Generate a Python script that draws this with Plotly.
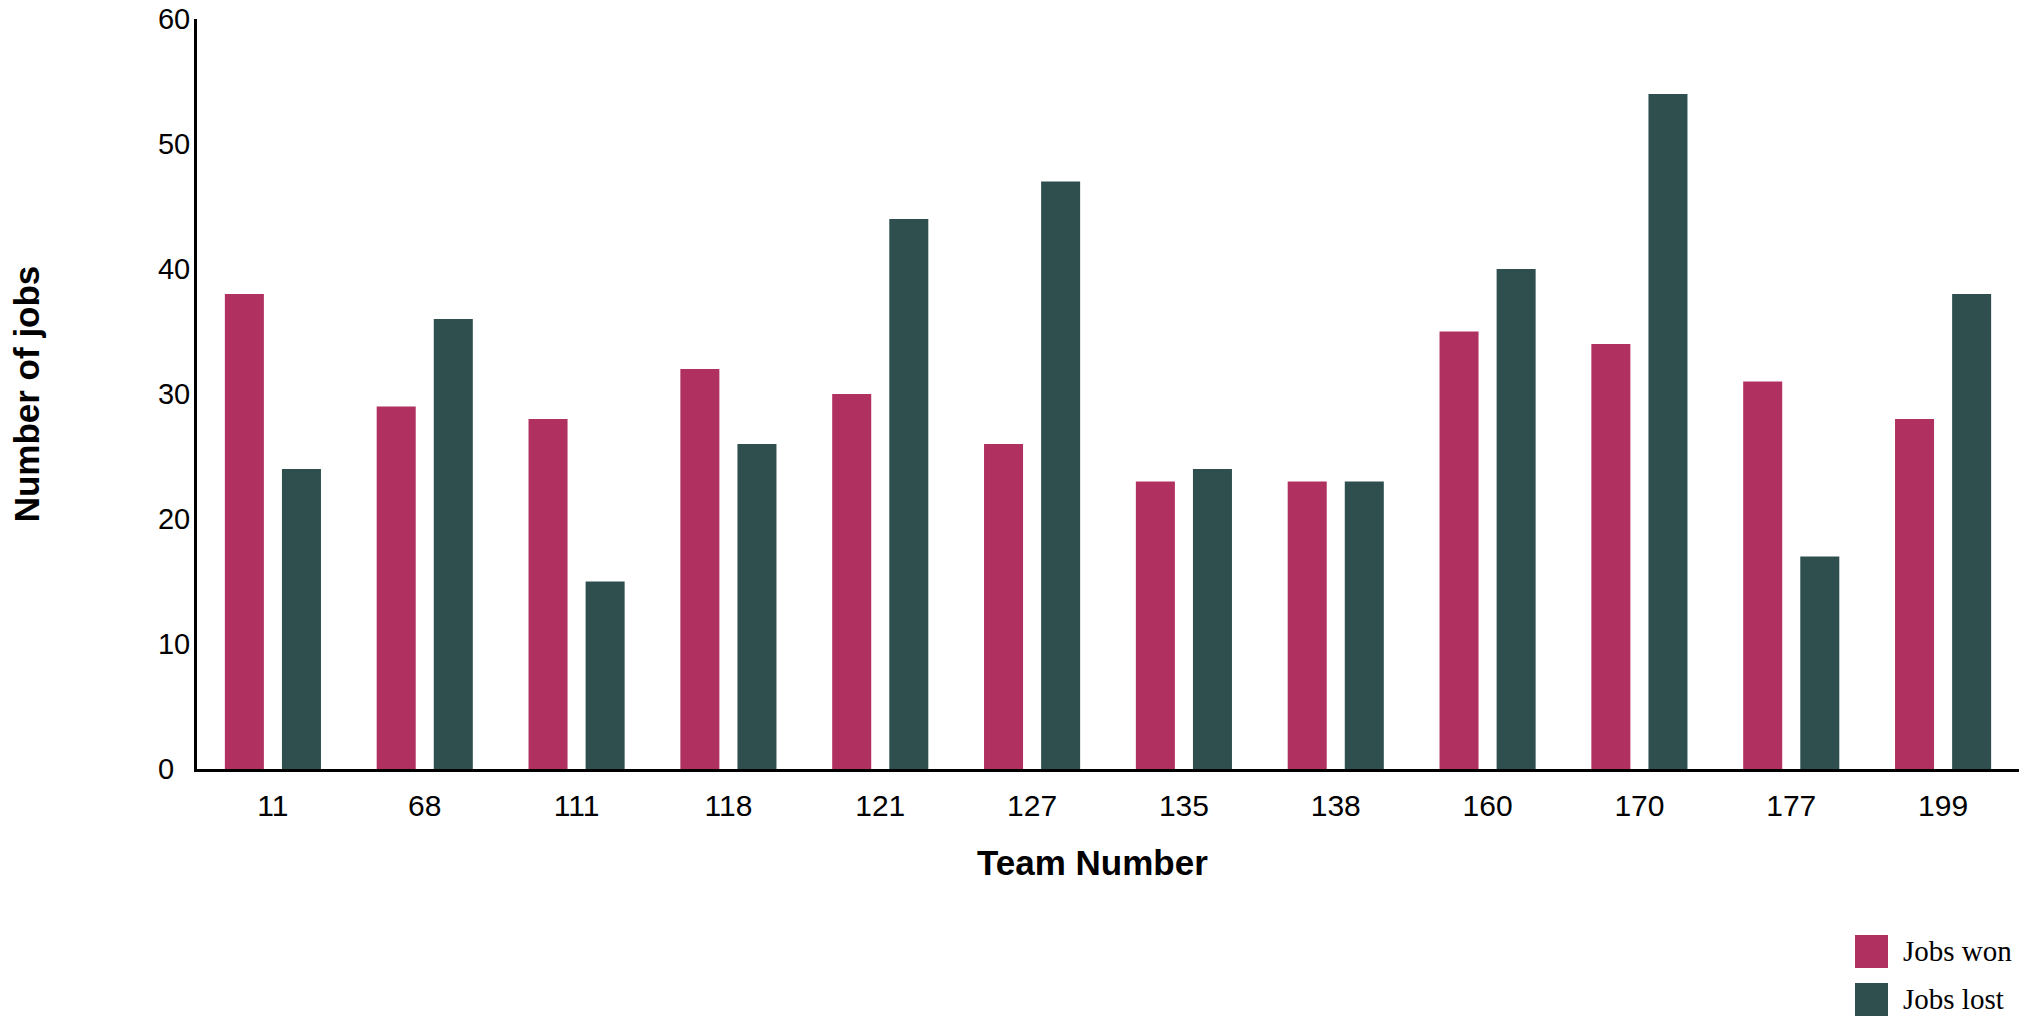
import plotly.graph_objects as go

# data
teams = ['11', '68', '111', '118', '121', '127', '135', '138', '160', '170', '177', '199']
jobs_won = [38, 29, 28, 32, 30, 26, 23, 23, 35, 34, 31, 28]
jobs_lost = [24, 36, 15, 26, 44, 47, 24, 23, 40, 54, 17, 38]
y_ticks = [0, 10, 20, 30, 40, 50, 60]
# y labels are left aligned in the original; a figure space pads the single digit
y_tick_text = ['0\u2007', '10', '20', '30', '40', '50', '60']

won_color = '#B03060'
lost_color = '#2F4F4F'

bar_w = 0.257
gap = 0.119

fig = go.Figure()
fig.add_trace(go.Bar(
    x=teams, y=jobs_won, name='Jobs won',
    marker=dict(color=won_color, line=dict(width=0)),
    width=bar_w, offset=-(bar_w + gap / 2),
))
fig.add_trace(go.Bar(
    x=teams, y=jobs_lost, name='Jobs lost',
    marker=dict(color=lost_color, line=dict(width=0)),
    width=bar_w, offset=gap / 2,
))

# plot area in pixels (used for the hand-drawn legend)
W, H = 2039, 1018
L, R, T, B = 197, 2019, 19, 769

def px(x):
    return (x - L) / (R - L)

def py(y):
    return (B - y) / (B - T)

# legend drawn by hand so the swatches can be as large as in the original
legend_items = [('Jobs won', won_color), ('Jobs lost', lost_color)]
for i, (label, col) in enumerate(legend_items):
    y0 = 935 + i * 48
    fig.add_shape(type='rect', xref='paper', yref='paper',
                  x0=px(1855), x1=px(1888), y0=py(y0 + 33), y1=py(y0),
                  fillcolor=col, line=dict(width=0))
    fig.add_annotation(xref='paper', yref='paper', showarrow=False,
                       x=px(1901), xanchor='left', y=py(y0 + 16), yanchor='middle',
                       text=label,
                       font=dict(family='Liberation Serif, Times New Roman, serif', size=29, color='black'))

# x title sits a bit left of the plot centre in the original
fig.add_annotation(xref='paper', yref='paper', showarrow=False,
                   x=px(1092), xanchor='center', y=py(862), yanchor='middle',
                   text='<b>Team Number</b>', font=dict(size=35, color='black'))

fig.update_layout(
    width=W, height=H,
    margin=dict(l=L, r=W - R, t=T, b=H - B, autoexpand=False),
    paper_bgcolor='white', plot_bgcolor='white',
    barmode='overlay',
    showlegend=False,
    font=dict(family='Liberation Sans, Arial, sans-serif', color='black'),
    xaxis=dict(
        type='category', range=[-0.5, 11.5],
        showline=True, linecolor='black', linewidth=3,
        showgrid=False, ticks='', zeroline=False,
        tickfont=dict(size=30), ticklabelstandoff=8,
    ),
    yaxis=dict(
        range=[0, 60], tickmode='array', tickvals=y_ticks, ticktext=y_tick_text,
        showline=True, linecolor='black', linewidth=3,
        showgrid=False, ticks='', zeroline=False,
        tickfont=dict(size=29), ticklabelstandoff=-2,
        title=dict(text='<b>Number of jobs</b>', font=dict(size=35), standoff=108),
    ),
)

fig.write_html('out.html', config={'displayModeBar': False},
               post_script="document.body.style.margin='0';document.body.style.overflow='hidden';")
